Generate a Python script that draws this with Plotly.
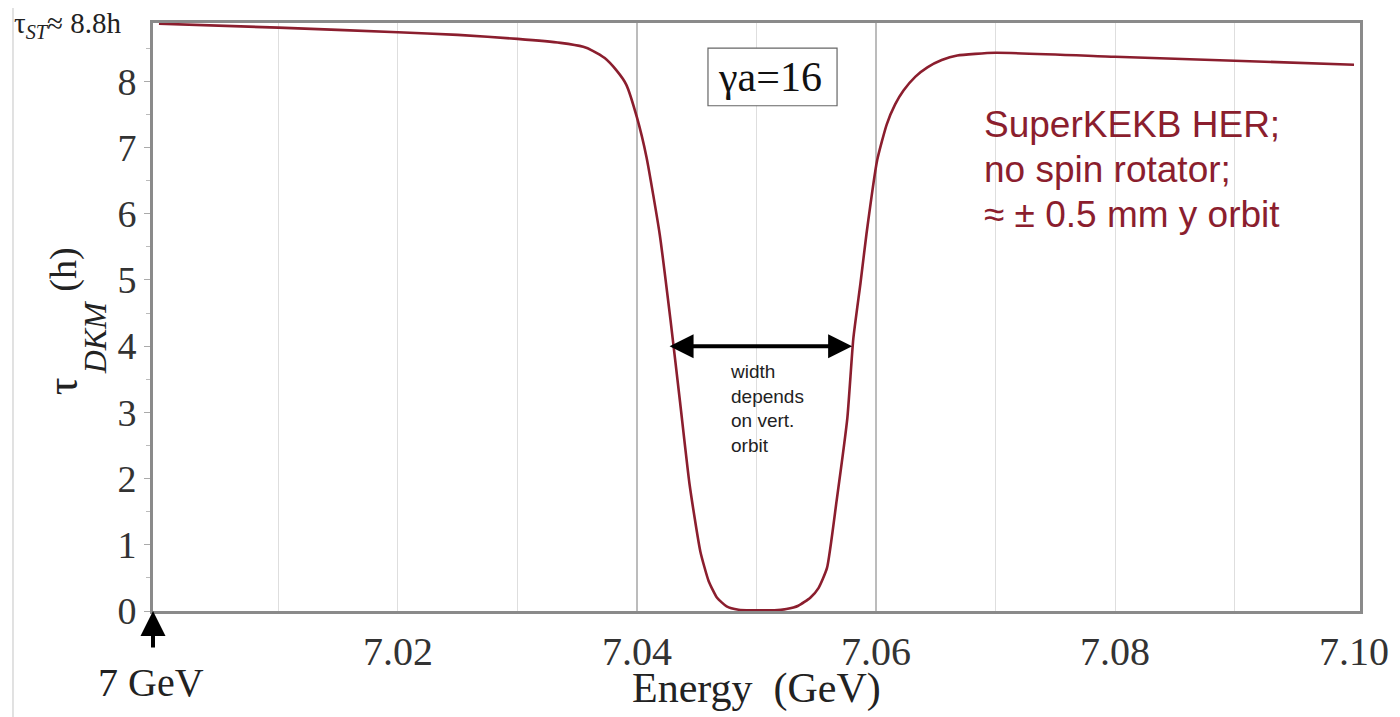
import plotly.graph_objects as go

# Curve
energy = [7.000, 7.010, 7.020, 7.025, 7.030, 7.0336, 7.0355, 7.0363, 7.0373, 7.0383,
          7.0391, 7.0400, 7.0408, 7.0419, 7.0428, 7.0436, 7.0444, 7.0453, 7.0460, 7.0467,
          7.0475, 7.0485, 7.0495, 7.0505, 7.0515, 7.0525, 7.0535, 7.0545, 7.0552, 7.0559,
          7.0567, 7.0576, 7.0581, 7.0587, 7.0592, 7.0601, 7.0609, 7.0616, 7.0623, 7.0633,
          7.0643, 7.0655, 7.0668, 7.0700, 7.0800, 7.0900, 7.1000]
tau = [8.87, 8.81, 8.74, 8.70, 8.64, 8.58, 8.52, 8.46, 8.35, 8.16,
       7.95, 7.45, 6.85, 5.69, 4.40, 3.16, 1.91, 0.90, 0.45, 0.20,
       0.07, 0.02, 0.01, 0.01, 0.01, 0.03, 0.08, 0.20, 0.35, 0.65,
       1.66, 2.91, 4.11, 4.95, 5.69, 6.81, 7.35, 7.65, 7.86, 8.07,
       8.21, 8.32, 8.39, 8.43, 8.37, 8.31, 8.25]

x_tick_vals = [7.02, 7.04, 7.06, 7.08, 7.10]
x_tick_text = ["7.02", "7.04", "7.06", "7.08", "7.10"]
x_light_grid = [7.01, 7.02, 7.03, 7.05, 7.07, 7.08, 7.09]
x_dark_grid = [7.04, 7.06]
y_tick_vals = [0, 1, 2, 3, 4, 5, 6, 7, 8]

width_arrow = [7.0426, 7.0580]
width_arrow_y = 4

legend_lines = ["SuperKEKB HER;", "no spin rotator;", "≈ ± 0.5 mm y orbit"]
legend_y = [7.34, 6.67, 5.99]

SERIF = "Liberation Serif, Times New Roman, serif"
SANS = "Liberation Sans, Arial, sans-serif"
RED = "#8b1e2e"

fig = go.Figure()
fig.add_trace(go.Scatter(x=energy, y=tau, mode="lines",
                         line=dict(color=RED, width=2.6, shape="spline", smoothing=0.5),
                         showlegend=False, hoverinfo="skip"))

for xv in x_dark_grid:
    fig.add_shape(type="line", xref="x", yref="paper", x0=xv, x1=xv, y0=0, y1=1,
                  line=dict(color="#a6a6a6", width=1.5), layer="below")

# faint border line at far left of the original picture
fig.add_shape(type="line", xref="paper", yref="paper", x0=-0.116, x1=-0.116, y0=-0.2, y1=1.1,
              line=dict(color="#d8d8d8", width=1.5), layer="below")

# box behind "γa=16"
fig.add_shape(type="rect", xref="x", yref="y", x0=7.04594, x1=7.05674, y0=7.63, y1=8.50,
              line=dict(color="#666", width=1.2), fillcolor="white", layer="above")
fig.add_annotation(x=7.0511, y=8.07, xref="x", yref="y", text="γa=16", showarrow=False,
                   font=dict(family=SERIF, size=42, color="#111"))

# double-headed width arrow
fig.add_annotation(x=width_arrow[1], y=width_arrow_y, ax=width_arrow[0], ay=width_arrow_y,
                   xref="x", yref="y", axref="x", ayref="y", text="", showarrow=True,
                   arrowhead=2, arrowside="end+start", arrowwidth=4, arrowsize=1.2,
                   arrowcolor="black")
fig.add_annotation(x=7.0476, y=3.80, xref="x", yref="y", xanchor="left", yanchor="top",
                   text="width<br>depends<br>on vert.<br>orbit", showarrow=False, align="left",
                   font=dict(family=SANS, size=19, color="#222"))

# red legend text, one line each
for line_text, ly in zip(legend_lines, legend_y):
    fig.add_annotation(x=7.0689, y=ly, xref="x", yref="y", xanchor="left", yanchor="middle",
                       text=line_text, showarrow=False, align="left",
                       font=dict(family=SANS, size=37, color=RED))

# tau_ST label
fig.add_annotation(x=-0.1168, y=0.9966, xref="paper", yref="paper", xanchor="left",
                   yanchor="middle", showarrow=False,
                   text="τ<sub><i>ST</i></sub>≈ 8.8h",
                   font=dict(family=SERIF, size=29, color="#222"))

# y-axis title in three pieces
fig.add_annotation(x=-0.0754, y=0.3824, xref="paper", yref="paper", xanchor="center",
                   yanchor="middle", textangle=-90, showarrow=False, text="τ",
                   font=dict(family=SERIF, size=44, color="#222"))
fig.add_annotation(x=-0.0481, y=0.4653, xref="paper", yref="paper", xanchor="center",
                   yanchor="middle", textangle=-90, showarrow=False, text="<i>DKM</i>",
                   font=dict(family=SERIF, size=32, color="#222"))
fig.add_annotation(x=-0.0738, y=0.5804, xref="paper", yref="paper", xanchor="center",
                   yanchor="middle", textangle=-90, showarrow=False, text="(h)",
                   font=dict(family=SERIF, size=38, color="#222"))

# x-axis title
fig.add_annotation(x=0.5004, y=-0.1320, xref="paper", yref="paper", xanchor="center",
                   yanchor="middle", showarrow=False, text="Energy  (GeV)",
                   font=dict(family=SERIF, size=42, color="#222"))

# 7 GeV arrow and label
fig.add_annotation(x=6.9995, y=0, xref="x", yref="y", ax=0, ay=38, text="",
                   showarrow=True, arrowhead=2, arrowwidth=4, arrowsize=1.25,
                   arrowcolor="black")
fig.add_annotation(x=-0.0017, y=-0.1218, xref="paper", yref="paper", xanchor="center",
                   yanchor="middle", showarrow=False, text="7 GeV",
                   font=dict(family=SERIF, size=40, color="#222"))

fig.update_layout(
    width=1400, height=717,
    margin=dict(l=145, r=48, t=12, b=114),
    paper_bgcolor="white", plot_bgcolor="white",
    showlegend=False,
    xaxis=dict(range=[6.9995, 7.1005], tickvals=x_tick_vals, ticktext=x_tick_text,
               showgrid=False, zeroline=False, ticks="",
               minor=dict(tickvals=x_light_grid, showgrid=True, gridcolor="#dedede",
                          gridwidth=1, ticks=""),
               showline=True, linecolor="#8a8a8a", linewidth=3, mirror=True,
               tickfont=dict(family=SERIF, size=40, color="#333"),
               ticklabelstandoff=3),
    yaxis=dict(range=[0, 8.88], tickvals=y_tick_vals, showgrid=False, zeroline=False,
               ticks="outside", ticklen=6, tickcolor="#aaaaaa", tickwidth=1,
               minor=dict(dtick=0.5, ticks="outside", ticklen=4, tickcolor="#bbbbbb"),
               showline=True, linecolor="#8a8a8a", linewidth=3, mirror=True,
               tickfont=dict(family=SERIF, size=38, color="#333")),
)

fig.write_html("out.html")
